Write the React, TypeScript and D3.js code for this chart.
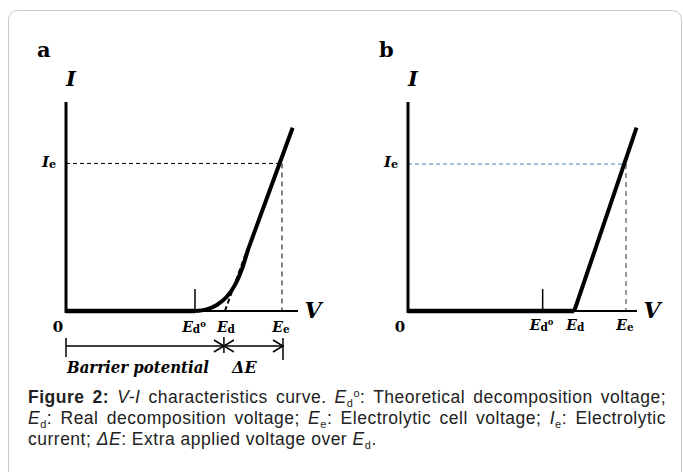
import { useLayoutEffect, useRef } from "react";
import * as d3 from "d3";

const W = 683;
const H = 472;

const PANEL_NAMES = ["a", "b"];
const ORIGIN_X = [66, 408];
const AXIS_END_X = [298, 637];
const AXIS_Y = 311;
const TOP_Y = 102;

// voltage / current markers, arbitrary units on a 0–10 scale
const ED0 = [5.56, 5.88];
const ED = [6.85, 7.26];
const EE = [9.31, 9.52];
const IE = [7.06, 7.03];

// panel a: rounded onset from Ed° into the linear branch
const CURVE_A: [number, number][] = [
  [5.56, 0], [6.06, 0.08], [6.5, 0.29], [6.93, 0.68], [7.28, 1.24], [7.57, 1.96], [7.85, 2.95],
];
const LINE_A: [number, number][] = [[7.85, 2.95], [9.77, 8.77]];
const TANGENT_A: [number, number][] = [[6.85, 0], [7.75, 2.75]];
// panel b: straight from Ed
const LINE_B: [number, number][] = [[7.26, 0], [9.98, 8.77]];

const IE_COLOR = ["#000", "#4a7ebb"];
const EE_COLOR = ["#000", "#333"];

type Seg = { t: string; s?: "b" | "i" | "sub" | "sup" };
const CAPTION: Seg[][] = [
  [
    { t: "Figure 2:", s: "b" }, { t: " " }, { t: "V-I", s: "i" },
    { t: " characteristics curve. " }, { t: "E", s: "i" }, { t: "d", s: "sub" }, { t: "o", s: "sup" },
    { t: ": Theoretical decomposition voltage;" },
  ],
  [
    { t: "E", s: "i" }, { t: "d", s: "sub" }, { t: ": Real decomposition voltage; " },
    { t: "E", s: "i" }, { t: "e", s: "sub" }, { t: ": Electrolytic cell voltage; " },
    { t: "I", s: "i" }, { t: "e", s: "sub" }, { t: ": Electrolytic" },
  ],
  [
    { t: "current; " }, { t: "ΔE", s: "i" }, { t: ": Extra applied voltage over " },
    { t: "E", s: "i" }, { t: "d", s: "sub" }, { t: "." },
  ],
];
const CAPTION_Y = [403, 424, 445];
const CAPTION_X0 = 28;
const CAPTION_X1 = 666;

const SERIF = "'DejaVu Serif', 'Liberation Serif', serif";
const SANS = "'Liberation Sans', Arial, sans-serif";

function SubLabel({ x, y, main, sub, sup, size = 14 }: { x: number; y: number; main: string; sub: string; sup?: string; size?: number }) {
  return (
    <text x={x} y={y} textAnchor="middle" fontFamily={SERIF} fontWeight="bold" fontSize={size}>
      <tspan fontStyle="italic">{main}</tspan>
      <tspan fontSize={size * 0.75} dy={1}>{sub}</tspan>
      {sup && <tspan fontSize={size * 0.6} dy={-6}>{sup}</tspan>}
    </text>
  );
}

function arrowHead(x: number, y: number, dir: number) {
  return `M${x - dir * 10},${y - 6}L${x},${y}L${x - dir * 10},${y + 6}`;
}

function Panel({ i }: { i: number }) {
  const x = d3.scaleLinear().domain([0, 10]).range([ORIGIN_X[i], AXIS_END_X[i]]);
  const y = d3.scaleLinear().domain([0, 10]).range([AXIS_Y, AXIS_Y - 209]);
  const line = d3.line<[number, number]>().x((d) => x(d[0])).y((d) => y(d[1]));
  const smooth = d3.line<[number, number]>().x((d) => x(d[0])).y((d) => y(d[1])).curve(d3.curveMonotoneX);

  const curve =
    i === 0
      ? (smooth(CURVE_A) ?? "") + `L${x(LINE_A[1][0])},${y(LINE_A[1][1])}`
      : line(LINE_B) ?? "";
  const thickEnd = i === 0 ? ED0[i] : ED[i];
  const x0 = ORIGIN_X[i];
  const labelY = i === 0 ? 332 : 330;

  return (
    <g>
      <text x={x0 - 29} y={57} fontFamily={SERIF} fontWeight="bold" fontSize={21}>{PANEL_NAMES[i]}</text>
      <text x={x0 + 5} y={86} textAnchor="middle" fontFamily={SERIF} fontWeight="bold" fontStyle="italic" fontSize={21}>I</text>

      {/* Ie / Ee guides */}
      <line x1={x0} x2={x(EE[i])} y1={y(IE[i])} y2={y(IE[i])} stroke={IE_COLOR[i]} strokeWidth={1} strokeDasharray="4,3" />
      <line x1={x(EE[i])} x2={x(EE[i])} y1={y(IE[i])} y2={AXIS_Y} stroke={EE_COLOR[i]} strokeWidth={1} strokeDasharray="5,4" />

      {/* axes */}
      <line x1={x0} x2={x0} y1={TOP_Y} y2={AXIS_Y + 2} stroke="#000" strokeWidth={3} />
      <line x1={x0} x2={AXIS_END_X[i]} y1={AXIS_Y} y2={AXIS_Y} stroke="#000" strokeWidth={2} />
      <line x1={x0} x2={x(thickEnd)} y1={AXIS_Y} y2={AXIS_Y} stroke="#000" strokeWidth={4.5} />
      <line x1={x(ED0[i])} x2={x(ED0[i])} y1={AXIS_Y - 22} y2={AXIS_Y} stroke="#000" strokeWidth={1.5} />

      {i === 0 && (
        <path d={line(TANGENT_A) ?? ""} fill="none" stroke="#000" strokeWidth={2} strokeDasharray="5,3" />
      )}
      <path d={curve} fill="none" stroke="#000" strokeWidth={4} />

      {/* labels */}
      <SubLabel x={x0 - 17} y={167} main="I" sub="e" size={15} />
      <text x={x0 - 8} y={332} textAnchor="middle" fontFamily={SERIF} fontWeight="bold" fontSize={15}>0</text>
      <SubLabel x={x(ED0[i]) - 1} y={labelY} main="E" sub="d" sup="o" />
      <SubLabel x={x(ED[i]) + 1} y={labelY} main="E" sub="d" />
      <SubLabel x={x(EE[i]) - 1} y={labelY} main="E" sub="e" />
      <text x={AXIS_END_X[i] + 15} y={318} textAnchor="middle" fontFamily={SERIF} fontWeight="bold" fontStyle="italic" fontSize={22}>V</text>

      {i === 0 && (
        <g stroke="#000" strokeWidth={1.5} fill="none">
          <line x1={x0} x2={x(EE[i]) + 1} y1={346} y2={346} />
          <line x1={x0} x2={x0} y1={338} y2={357} />
          <line x1={x(ED[i]) - 1} x2={x(ED[i]) - 1} y1={337} y2={353} />
          <line x1={x(EE[i]) + 1} x2={x(EE[i]) + 1} y1={338} y2={360} />
          <path d={arrowHead(x(ED[i]) - 1, 346, 1)} />
          <path d={arrowHead(x(ED[i]) - 1, 346, -1)} />
          <path d={arrowHead(x(EE[i]) + 1, 346, 1)} />
        </g>
      )}
      {i === 0 && (
        <g fontFamily={SERIF} fontWeight="bold" fontStyle="italic" fontSize={16}>
          <text x={x0 + 1} y={373} textLength={142} lengthAdjust="spacingAndGlyphs">Barrier potential</text>
          <text x={232} y={373}>ΔE</text>
        </g>
      )}
    </g>
  );
}

function CaptionLine({ segs, y, justify }: { segs: Seg[]; y: number; justify: boolean }) {
  return (
    <text x={CAPTION_X0} y={y} fontFamily={SANS} fontSize={17.5} letterSpacing={0.5} fill="#222" data-justify={justify ? "1" : "0"}>
      {segs.map((s, k) => {
        const prev = segs[k - 1]?.s;
        let dy = 0;
        if (s.s === "sub") dy = prev === "sup" ? 10 : 4;
        else if (s.s === "sup") dy = prev === "sub" ? -10 : -6;
        else if (prev === "sub") dy = -4;
        else if (prev === "sup") dy = 6;
        return (
          <tspan
            key={k}
            dy={dy || undefined}
            fontWeight={s.s === "b" ? "bold" : undefined}
            fontStyle={s.s === "i" ? "italic" : undefined}
            fontSize={s.s === "sub" || s.s === "sup" ? 11 : undefined}
          >
            {s.t}
          </tspan>
        );
      })}
    </text>
  );
}

export default function App() {
  const svgRef = useRef<SVGSVGElement>(null);

  useLayoutEffect(() => {
    if (!svgRef.current) return;
    d3.select(svgRef.current)
      .selectAll<SVGTextElement, unknown>("text[data-justify='1']")
      .each(function () {
        this.style.wordSpacing = "0px";
        const natural = this.getComputedTextLength();
        const spaces = (this.textContent ?? "").split(" ").length - 1;
        if (spaces > 0) {
          this.style.wordSpacing = `${Math.max(0, (CAPTION_X1 - CAPTION_X0 - natural) / spaces)}px`;
        }
      });
  }, []);

  return (
    <svg ref={svgRef} width={W} height={H} style={{ position: "absolute", left: 0, top: 0, background: "#fff" }}>
      <rect x={8.5} y={10.5} width={673} height={480} rx={9} fill="#fff" stroke="#c9c9c9" strokeWidth={1} />
      {PANEL_NAMES.map((_, i) => (
        <Panel key={i} i={i} />
      ))}
      {CAPTION.map((segs, i) => (
        <CaptionLine key={i} segs={segs} y={CAPTION_Y[i]} justify={i < CAPTION.length - 1} />
      ))}
    </svg>
  );
}
